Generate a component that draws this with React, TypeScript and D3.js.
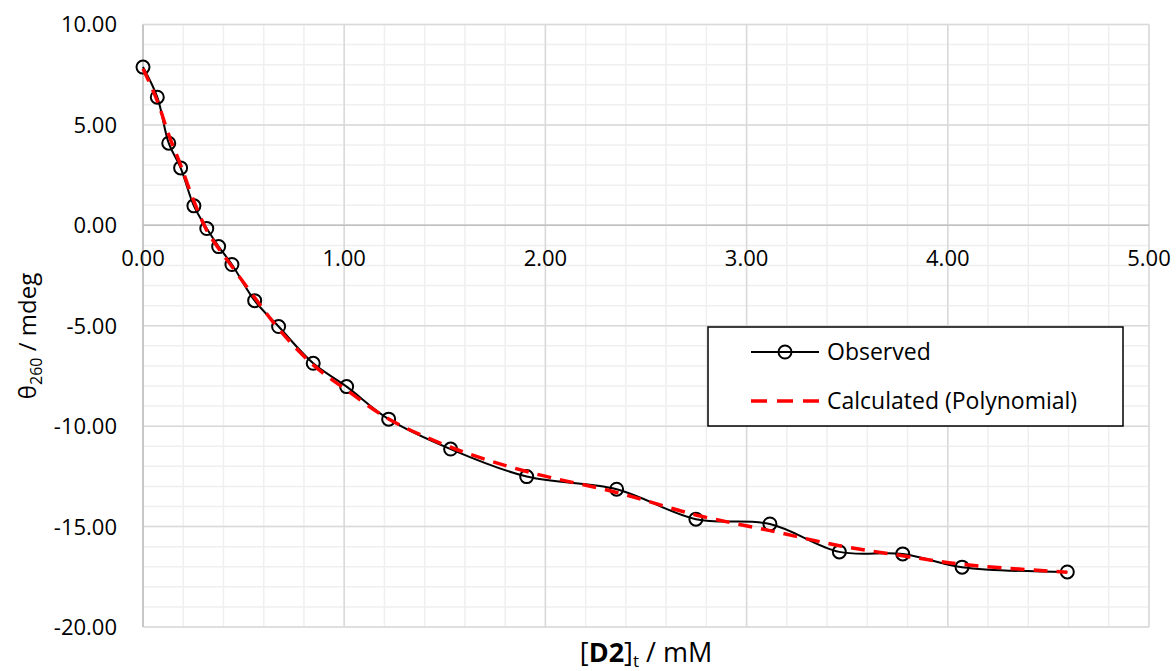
import React from "react";
import * as d3 from "d3";

const concentration = [0, 0.071, 0.128, 0.187, 0.253, 0.317, 0.376, 0.442, 0.555, 0.674, 0.846, 1.012, 1.221, 1.529, 1.907, 2.354, 2.748, 3.116, 3.461, 3.776, 4.071, 4.594];
const observed = [7.88, 6.38, 4.09, 2.86, 0.97, -0.16, -1.06, -1.95, -3.75, -5.04, -6.87, -8.03, -9.65, -11.14, -12.51, -13.14, -14.63, -14.87, -16.26, -16.36, -17.02, -17.26];
const calculated = [7.8, 6.2, 4.5, 3.0, 1.2, -0.25, -1.15, -2.05, -3.6, -5.15, -6.95, -8.2, -9.64, -11.05, -12.26, -13.3, -14.42, -15.2, -15.95, -16.45, -16.88, -17.27];
const xTicks = [0, 1, 2, 3, 4, 5];
const yTicks = [-20, -15, -10, -5, 0, 5, 10];
const seriesNames = ["Observed", "Calculated (Polynomial)"];

const FONT = "'Open Sans', 'Noto Sans', sans-serif";

export default function App() {
  const W = 1176, H = 671;
  const x = d3.scaleLinear().domain([0, 5]).range([143, 1149]);
  const y = d3.scaleLinear().domain([-20, 10]).range([627, 24.5]);
  const minorX = d3.range(0, 5.0001, 0.2);
  const minorY = d3.range(-20, 10.0001, 1);
  const line = d3.line<[number, number]>().x(d => x(d[0])).y(d => y(d[1])).curve(d3.curveCatmullRom.alpha(0.5));
  const obsPts: [number, number][] = concentration.map((c, i) => [c, observed[i]]);
  const calPts: [number, number][] = concentration.map((c, i) => [c, calculated[i]]);
  const [x0, x1] = x.range();
  const [y0, y1] = y.range();
  const lx = 708, ly = 327, lw = 415, lh = 99;
  return (
    <div style={{ position: "fixed", left: 0, top: 0 }}>
      <svg width={W} height={H} style={{ display: "block", background: "#fff" }} fontFamily={FONT}>
        <rect width={W} height={H} fill="#fff" />
        {minorX.map((v, i) => (
          <line key={"mx" + i} x1={x(v)} x2={x(v)} y1={y1} y2={y0} stroke="#efefef" strokeWidth={1.5} />
        ))}
        {minorY.map((v, i) => (
          <line key={"my" + i} x1={x0} x2={x1} y1={y(v)} y2={y(v)} stroke="#efefef" strokeWidth={1.5} />
        ))}
        {xTicks.map(v => (
          <line key={"gx" + v} x1={x(v)} x2={x(v)} y1={y1} y2={y0} stroke="#d9d9d9" strokeWidth={1.5} />
        ))}
        {yTicks.map(v => (
          <line key={"gy" + v} x1={x0} x2={x1} y1={y(v)} y2={y(v)} stroke="#d9d9d9" strokeWidth={1.5} />
        ))}
        <line x1={x0} x2={x0} y1={y1} y2={y0} stroke="#bfbfbf" strokeWidth={1.5} />
        <line x1={x0} x2={x1} y1={y(0)} y2={y(0)} stroke="#bfbfbf" strokeWidth={1.5} />
        {yTicks.map(v => (
          <text key={"ty" + v} x={117} y={y(v)} dy="0.36em" textAnchor="end" fontSize={22} fill="#000">
            {v.toFixed(2)}
          </text>
        ))}
        {xTicks.map(v => (
          <text key={"tx" + v} x={x(v)} y={266} textAnchor="middle" fontSize={22} fill="#000">
            {v.toFixed(2)}
          </text>
        ))}
        <path d={line(obsPts) || ""} fill="none" stroke="#000" strokeWidth={2} />
        {obsPts.map((p, i) => (
          <circle key={"c" + i} cx={x(p[0])} cy={y(p[1])} r={6.5} fill="none" stroke="#000" strokeWidth={2} />
        ))}
        <path d={line(calPts) || ""} fill="none" stroke="#ff0000" strokeWidth={3.5} strokeDasharray="14,9" />
        <rect x={lx} y={ly} width={lw} height={lh} fill="#fff" stroke="#000" strokeWidth={1.5} />
        <line x1={751} x2={819} y1={352} y2={352} stroke="#000" strokeWidth={2} />
        <circle cx={785} cy={352} r={6.5} fill="none" stroke="#000" strokeWidth={2} />
        <text x={827} y={352} dy="0.36em" fontSize={23} fill="#000">{seriesNames[0]}</text>
        <line x1={751} x2={819} y1={401} y2={401} stroke="#ff0000" strokeWidth={3.5} strokeDasharray="16,10" />
        <text x={827} y={401} dy="0.36em" fontSize={23} fill="#000">{seriesNames[1]}</text>
        <text x={(x0 + x1) / 2} y={662} textAnchor="middle" fontSize={27} fill="#000">
          [<tspan fontWeight="bold">D2</tspan>]<tspan fontSize={17} dy={5}>t</tspan><tspan dy={-5}> / mM</tspan>
        </text>
        <text transform={`translate(36,336) rotate(-90)`} textAnchor="middle" fontSize={24} fill="#000">
          θ<tspan fontSize={16} dy={6}>260</tspan><tspan dy={-6}> / mdeg</tspan>
        </text>
      </svg>
    </div>
  );
}
